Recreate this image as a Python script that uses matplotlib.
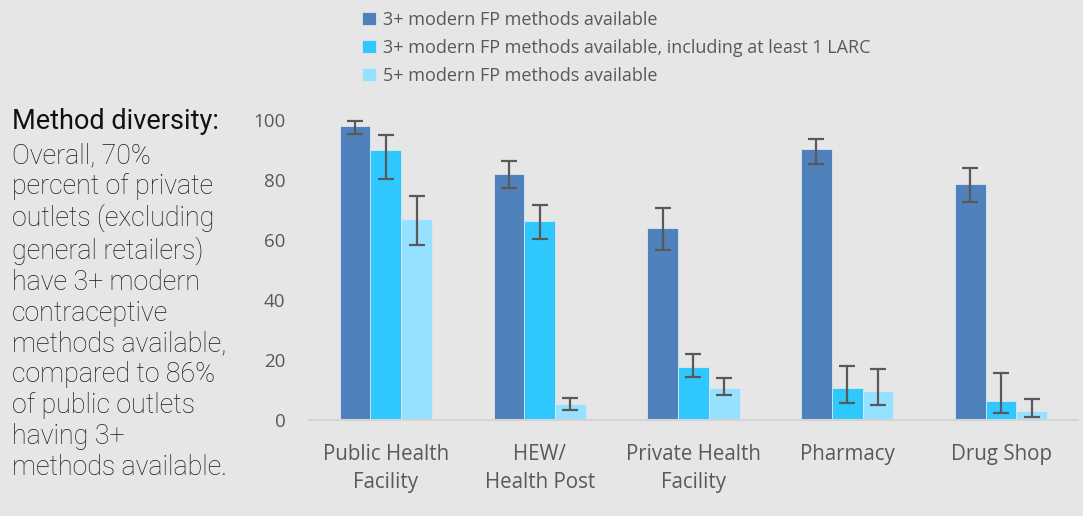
import matplotlib
matplotlib.use("Agg")
import matplotlib.pyplot as plt
import numpy as np

categories = ["Public Health\nFacility", "HEW/\nHealth Post", "Private Health\nFacility",
              "Pharmacy", "Drug Shop"]
series_names = ["3+ modern FP methods available",
                "3+ modern FP methods available, including at least 1 LARC",
                "5+ modern FP methods available"]

# valeurs (%)
vals_3plus = [98.0, 82.1, 63.9, 90.4, 78.8]
vals_larc = [89.9, 66.3, 17.8, 10.6, 6.3]
vals_5plus = [67.0, 5.2, 10.7, 9.7, 3.0]

# intervalles de confiance (bas, haut)
ci_3plus_lo = [95.3, 77.3, 56.6, 85.4, 72.6]
ci_3plus_hi = [99.8, 86.4, 70.7, 93.8, 84.1]
ci_larc_lo = [80.2, 60.5, 14.4, 5.8, 2.2]
ci_larc_hi = [95.1, 71.6, 22.1, 18.1, 15.7]
ci_5plus_lo = [58.4, 3.5, 8.4, 5.1, 1.1]
ci_5plus_hi = [74.7, 7.5, 13.9, 17.1, 7.0]

colors = ["#4F81BD", "#2EC8FF", "#96E1FF"]
bg = "#E6E6E6"
txt = "#595959"

fig = plt.figure(figsize=(10.83, 5.16), dpi=100, facecolor=bg)
ax = fig.add_axes([0.2853, 0.186, 0.710, 0.5814], facecolor=bg)

x = np.arange(len(categories))
w = 0.2
series = [
    (vals_3plus, ci_3plus_lo, ci_3plus_hi),
    (vals_larc, ci_larc_lo, ci_larc_hi),
    (vals_5plus, ci_5plus_lo, ci_5plus_hi),
]
handles = []
for i, (v, lo, hi) in enumerate(series):
    v = np.array(v)
    yerr = [v - np.array(lo), np.array(hi) - v]
    b = ax.bar(x + (i - 1) * w, v, w, color=colors[i], edgecolor="#DCE6F0",
               linewidth=0.6, label=series_names[i], zorder=2)
    handles.append(b)
    ax.errorbar(x + (i - 1) * w, v, yerr=yerr, fmt="none", ecolor="#595959",
                elinewidth=1.6, capsize=6, capthick=1.6, zorder=3, clip_on=False)

ax.set_xlim(-0.5, 4.5)
ax.set_ylim(0, 100)
ax.set_yticks(range(0, 101, 20))
ax.set_xticks(x)
ax.set_xticklabels(categories, fontfamily="Open Sans", fontsize=14.8, color=txt,
                   linespacing=1.45)
for lab in ax.get_yticklabels():
    lab.set_fontfamily("Open Sans")
    lab.set_fontsize(13.5)
    lab.set_color(txt)
ax.tick_params(axis="both", length=0)
ax.tick_params(axis="y", pad=17)
ax.tick_params(axis="x", pad=17)
for s in ["top", "right", "left"]:
    ax.spines[s].set_visible(False)
ax.spines["bottom"].set_color("#D4D4D4")
ax.spines["bottom"].set_linewidth(1.5)

leg = fig.legend(handles=handles, loc="upper left", bbox_to_anchor=(0.328, 0.993),
                 frameon=False, prop={"family": "Open Sans", "size": 13.0},
                 handlelength=0.75, handleheight=0.75, handletextpad=0.4,
                 labelspacing=0.56, borderaxespad=0)
for t in leg.get_texts():
    t.set_color(txt)

fig.text(0.011, 0.765, "Method diversity:", fontfamily="Roboto", fontsize=19.5,
         color="#111111", va="center")
body = ("Overall, 70%\npercent of private\noutlets (excluding\ngeneral retailers)\n"
        "have 3+ modern\ncontraceptive\nmethods available,\ncompared to 86%\n"
        "of public outlets\nhaving 3+\nmethods available.")
fig.text(0.011, 0.725, body, fontfamily="Roboto", fontweight="light", fontsize=19.3,
         color="#1a1a1a", va="top", linespacing=1.185)

fig.savefig("out.png", dpi=100, facecolor=bg)
